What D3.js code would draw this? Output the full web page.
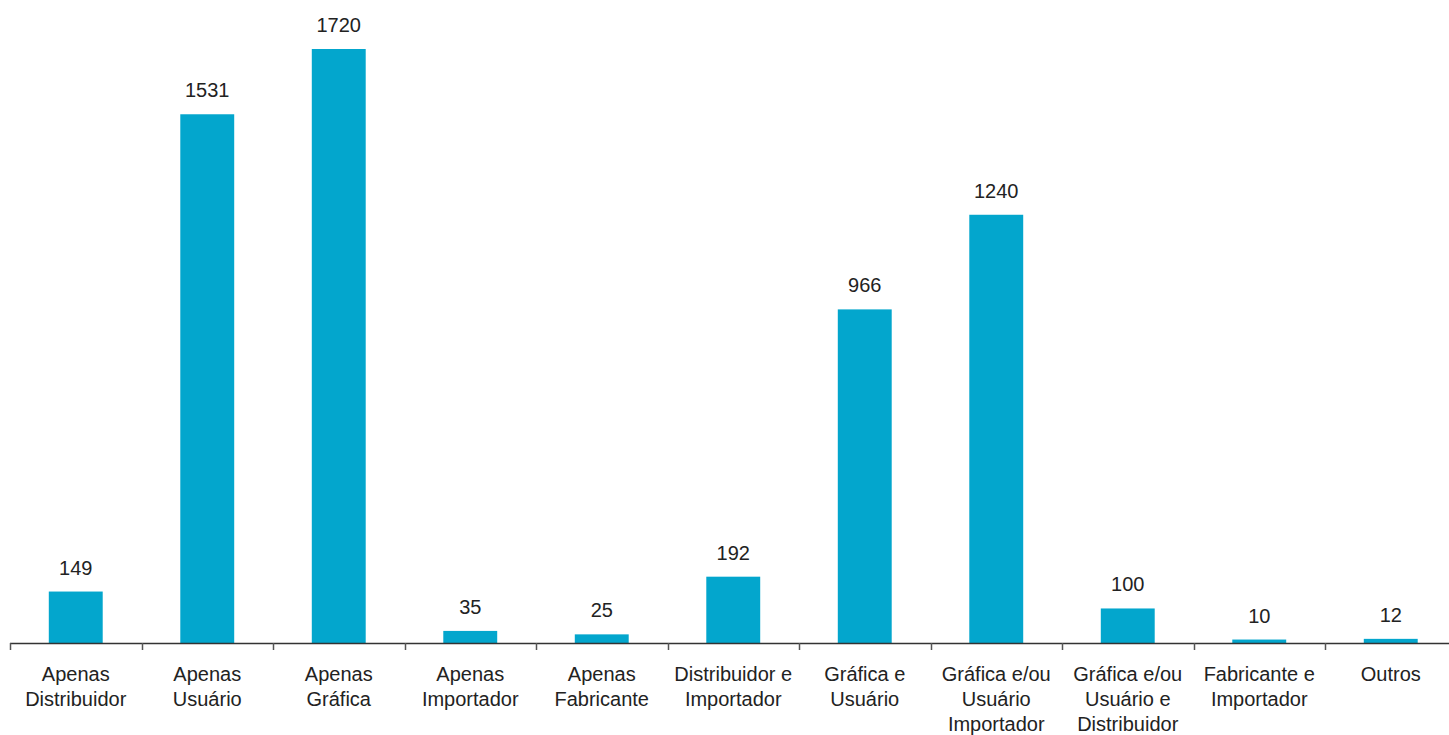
<!DOCTYPE html>
<html>
<head>
<meta charset="utf-8">
<script src="https://cdn.jsdelivr.net/npm/d3@7"></script>
<style>
  body { margin: 0; background: #fff; }
  text { font-family: "Liberation Sans", Arial, sans-serif; }
</style>
</head>
<body>
<svg width="1449" height="735"></svg>
<script>
// data
var categories = [
  "Apenas Distribuidor", "Apenas Usuário", "Apenas Gráfica", "Apenas Importador",
  "Apenas Fabricante", "Distribuidor e Importador", "Gráfica e Usuário",
  "Gráfica e/ou Usuário Importador", "Gráfica e/ou Usuário e Distribuidor",
  "Fabricante e Importador", "Outros"
];
var labelLines = [
  ["Apenas", "Distribuidor"],
  ["Apenas", "Usuário"],
  ["Apenas", "Gráfica"],
  ["Apenas", "Importador"],
  ["Apenas", "Fabricante"],
  ["Distribuidor e", "Importador"],
  ["Gráfica e", "Usuário"],
  ["Gráfica e/ou", "Usuário", "Importador"],
  ["Gráfica e/ou", "Usuário e", "Distribuidor"],
  ["Fabricante e", "Importador"],
  ["Outros"]
];
var values = [149, 1531, 1720, 35, 25, 192, 966, 1240, 100, 10, 12];

var svg = d3.select("svg");
var left = 10, step = 131.5, baseY = 643, topY = 49;

var x = d3.scaleBand()
  .domain(categories)
  .range([left, left + step * categories.length])
  .paddingInner(0.59)
  .paddingOuter(0.295);

var y = d3.scaleLinear().domain([0, 1720]).range([baseY, topY]);

// bars
svg.append("g")
  .selectAll("rect")
  .data(values)
  .enter()
  .append("rect")
  .attr("x", function (d, i) { return x(categories[i]); })
  .attr("y", function (d) { return y(d); })
  .attr("width", x.bandwidth())
  .attr("height", function (d) { return baseY - y(d); })
  .attr("fill", "#03A6CD");

// value labels
svg.append("g")
  .selectAll("text")
  .data(values)
  .enter()
  .append("text")
  .attr("x", function (d, i) { return x(categories[i]) + x.bandwidth() / 2; })
  .attr("y", function (d) { return y(d) - 17; })
  .attr("text-anchor", "middle")
  .attr("font-size", 20)
  .attr("fill", "#222")
  .text(function (d) { return d; });

// axis line + boundary ticks
var axis = svg.append("g");
axis.append("line")
  .attr("x1", left).attr("x2", 1449)
  .attr("y1", baseY + 0.5).attr("y2", baseY + 0.5)
  .attr("stroke", "#333").attr("stroke-width", 1.5);

axis.selectAll("line.tick")
  .data(d3.range(categories.length + 1))
  .enter()
  .append("line")
  .attr("class", "tick")
  .attr("x1", function (i) { return Math.round(left + i * x.step()) + 0.5; })
  .attr("x2", function (i) { return Math.round(left + i * x.step()) + 0.5; })
  .attr("y1", baseY).attr("y2", baseY + 7)
  .attr("stroke", "#555").attr("stroke-width", 1.5);

// category labels
var lbl = axis.selectAll("text.cat")
  .data(categories)
  .enter()
  .append("text")
  .attr("class", "cat")
  .attr("x", function (d) { return x(d) + x.bandwidth() / 2; })
  .attr("y", baseY + 38)
  .attr("text-anchor", "middle")
  .attr("font-size", 20)
  .attr("fill", "#222");

lbl.each(function (d, i) {
  var t = d3.select(this);
  labelLines[i].forEach(function (line, k) {
    t.append("tspan")
      .attr("x", x(d) + x.bandwidth() / 2)
      .attr("dy", k === 0 ? 0 : 25)
      .text(line);
  });
});
</script>
</body>
</html>
